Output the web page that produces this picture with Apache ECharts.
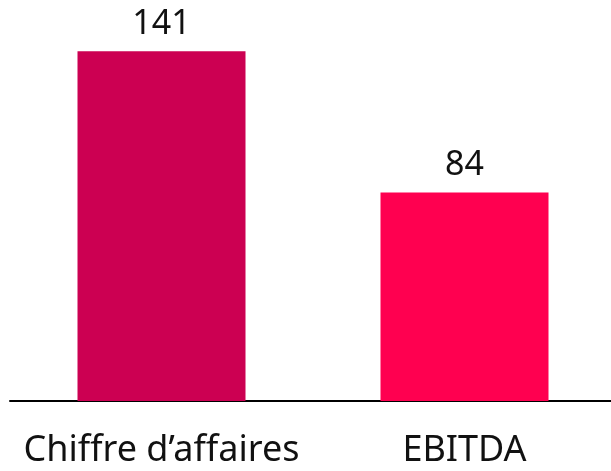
<!DOCTYPE html>
<html>
<head>
<meta charset="utf-8">
<script src="https://cdn.jsdelivr.net/npm/echarts@6/dist/echarts.min.js"></script>
<style>
  html, body { margin: 0; padding: 0; background: #fff; overflow: hidden; }
  #wrap { width: 611px; height: 471px; overflow: hidden; }
  #chart { width: 618px; height: 471px; }
</style>
</head>
<body>
<div id="wrap"><div id="chart"></div></div>
<script>
const categories = ['Chiffre d\u2019affaires', 'EBITDA'];
const values = [141, 84];
const barColors = ['#CC0052', '#FF0050'];

const chart = echarts.init(document.getElementById('chart'));
chart.setOption({
  animation: false,
  grid: { left: 10, right: 2, top: 4, bottom: 70 },
  xAxis: {
    type: 'category',
    data: categories,
    axisLine: { lineStyle: { color: '#000', width: 2 } },
    axisTick: { show: false },
    axisLabel: {
      interval: 0,
      color: '#111',
      fontFamily: 'Noto Sans',
      fontSize: 36,
      margin: 32
    }
  },
  yAxis: {
    type: 'value',
    min: 0,
    max: 160,
    show: false,
    splitLine: { show: false }
  },
  series: [{
    type: 'bar',
    barWidth: 168,
    data: values.map((v, i) => ({ value: v, itemStyle: { color: barColors[i] } })),
    label: {
      show: true,
      position: 'top',
      distance: 10,
      color: '#111',
      fontFamily: 'Noto Sans',
      fontSize: 34
    }
  }]
});
</script>
</body>
</html>
